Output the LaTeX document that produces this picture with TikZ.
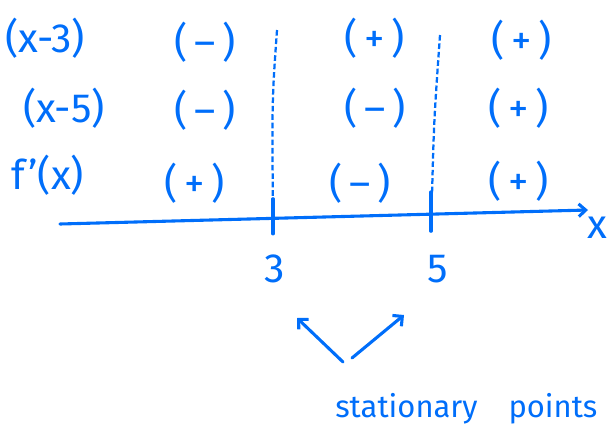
\documentclass[tikz,border=0pt]{standalone}
\usepackage{fontspec}
\setmainfont{Fira Sans}
\usetikzlibrary{arrows.meta}
\definecolor{penblue}{RGB}{0,110,250}

\begin{document}
\begin{tikzpicture}[x=0.025cm,y=-0.025cm,
  every node/.style={text=penblue,inner sep=0pt,font=\fontsize{29}{34}\selectfont},
  pen/.style={penblue,line width=2.2pt,line cap=round},
  div/.style={penblue,line width=1.6pt,dash pattern=on 4pt off 2pt}]
\useasboundingbox (0,0) rectangle (610,447);
% row labels
\node (x3) at (45,38) {(x-3)};
\node (x5) at (64,108) {(x-5)};
\node (fx) at (48,175) {f'(x)};
% signs
\node (a1) at (205,42) {(\,–\,)};  \node (a2) at (375,38) {(\,+\,)};  \node (a3) at (522,40) {(\,+\,)};
\node (b1) at (205,110) {(\,–\,)}; \node (b2) at (375,108) {(\,–\,)}; \node (b3) at (519,108) {(\,+\,)};
\node (c1) at (195,183) {(\,+\,)}; \node (c2) at (360,183) {(\,–\,)}; \node (c3) at (519,181) {(\,+\,)};
% axis
\coordinate (ax0) at (60,224); \coordinate (ax1) at (588,210);
\draw[pen,-{Straight Barb[length=5pt,width=9pt]}] (ax0) -- (ax1);
\node (xl) at (597,228) {x};
\coordinate (t3) at (273,217); \coordinate (t5) at (431,213);
\draw[pen] ([yshift=-12]t3) -- ([yshift=13]t3);
\draw[pen] ([yshift=-13]t5) -- ([yshift=15]t5);
\draw[div] (277,30) .. controls (272,100) .. (t3);
\draw[div] (440,35) .. controls (434,120) .. (432,195);
\node (n3) at (275,269) {3};
\node (n5) at (438,269) {5};
% stationary points
\coordinate (v1) at (343,362); \coordinate (h1) at (297,318);
\coordinate (v2) at (352,358); \coordinate (h2) at (404,315);
\draw[pen,-{Straight Barb[length=5pt,width=10pt]}] (v1) -- (h1);
\draw[pen,-{Straight Barb[length=5pt,width=10pt]}] (v2) -- (h2);
\node[anchor=base west,font=\fontsize{22}{26}\selectfont] (sp) at (335,417) {stationary\quad points};
\end{tikzpicture}
\end{document}
